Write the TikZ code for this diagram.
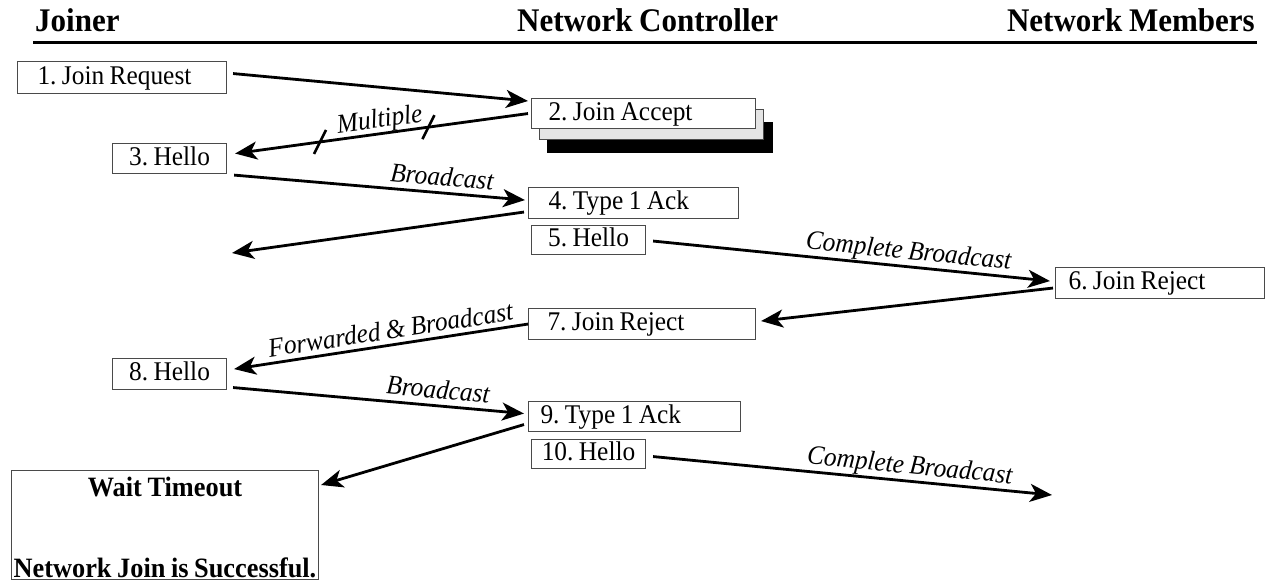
\documentclass[tikz,border=0pt]{standalone}
\usepackage{fontspec}
\setmainfont{Liberation Serif}[FakeStretch=0.94, WordSpace=0.85]
\usetikzlibrary{arrows.meta,calc}
\definecolor{boxc}{HTML}{4A4A4A}
\definecolor{shadegray}{HTML}{E4E4E4}
\frenchspacing
\begin{document}
\begin{tikzpicture}[x=1pt,y=-1pt,
  every node/.style={font=\fontsize{27}{32}\selectfont},
  box/.style={draw=boxc, line width=1.1pt, fill=white, anchor=north west,
    inner ysep=0pt, text height=18pt, text depth=5pt, align=flush left},
  hbox/.style={box, align=center, inner xsep=1pt},
  hd/.style={font=\fontsize{33}{38}\selectfont\bfseries, inner sep=0pt},
  bold/.style={font=\fontsize{28}{32}\selectfont\bfseries, inner sep=0pt},
  lab/.style={font=\fontsize{27}{32}\selectfont\itshape, sloped, above=1pt,
    inner sep=0pt, text depth=5pt},
  msg/.style={line width=2.8pt, -{Stealth[length=22pt,width=18pt,inset=6pt]}},
  tick/.style={line width=2.5pt}
]
\useasboundingbox (0,0) rectangle (1267,581);

% header
\node[hd, anchor=base west] (hj) at (35,31) {Joiner};
\node[hd, anchor=base west] (hc) at (517,31) {Network Controller};
\node[hd, anchor=base east] (hm) at (1255,31) {Network Members};
\draw[line width=3pt] (33,42) -- (1257,42);

% boxes
\node[box, inner xsep=20pt, text width=169pt, minimum height=32pt] (b1) at (17,61) {1. Join Request};
\node[box, draw=black, fill=black, minimum width=225pt, minimum height=30pt, inner sep=0pt] (b2k) at (547,122) {};
\node[box, fill=shadegray, minimum width=224pt, minimum height=30pt, inner sep=0pt] (b2g) at (539,109) {};
\node[box, inner xsep=17pt, text width=190pt, minimum height=30pt] (b2) at (531,98) {2. Join Accept};
\node[hbox, minimum width=114pt, minimum height=30pt] (b3) at (112,143) {3. Hello};
\node[box, inner xsep=20pt, text width=170pt, minimum height=31pt] (b4) at (528,187) {4. Type 1 Ack};
\node[hbox, minimum width=114pt, minimum height=29pt] (b5) at (531,225) {5. Hello};
\node[box, inner xsep=13pt, text width=183pt, minimum height=31pt] (b6) at (1055,267) {6. Join Reject};
\node[box, inner xsep=19pt, text width=189pt, minimum height=31pt] (b7) at (528,308) {7. Join Reject};
\node[hbox, minimum width=114pt, minimum height=31pt] (b8) at (112,358) {8. Hello};
\node[box, inner xsep=12pt, text width=188pt, minimum height=30pt] (b9) at (528,401) {9. Type 1 Ack};
\node[hbox, minimum width=114pt, minimum height=29pt] (b10) at (531,439) {10. Hello};
\node[box, minimum width=307pt, minimum height=109pt, inner sep=0pt] (wt) at (11,470) {};
\node[bold, anchor=base] (wt1) at (165,496) {Wait Timeout};
\node[bold, anchor=base] (wt2) at (165,577) {Network Join is Successful.};

% free ends
\coordinate (e4) at (232,253);
\coordinate (e10) at (1052,495);

% connectors
\draw[msg] ($(b1.east)+(6,-4)$) -- ($(b2.north west)+(-3,3)$);

\draw[msg] ($(b2.west)+(-3,0)$) -- ($(b3.east)+(8,-5)$);
\path ($(b2.west)+(-3,0)$) -- ($(b3.east)+(8,-5)$)
  coordinate[pos=0.34] (t1) coordinate[pos=0.71] (t2);
\draw[tick] ($(t1)+(-6,12)$) -- ($(t1)+(6,-12)$);
\draw[tick] ($(t2)+(-6,12)$) -- ($(t2)+(6,-12)$);
\path ($(b3.east)+(8,-5)$) -- ($(b2.west)+(-3,0)$) node[lab, pos=0.5] {Multiple};

\draw[msg] ($(b3.south east)+(7,1)$) -- node[lab, pos=0.71] {Broadcast} ($(b4.west)+(-3,-3)$);
\draw[msg] ($(b4.west)+(-4,9)$) -- (e4);

\draw[msg] ($(b5.east)+(7,1)$) -- node[lab, pos=0.64] {Complete Broadcast} ($(b6.west)+(-5,-2)$);
\draw[msg] ($(b6.west)+(-2,5)$) -- ($(b7.east)+(5,-3)$);

\draw[msg] (b7.west) -- ($(b8.east)+(7,-5)$);
\path ($(b8.east)+(7,-5)$) -- (b7.west) node[lab, pos=0.54] {Forwarded \& Broadcast};

\draw[msg] ($(b8.east)+(6,13.5)$) -- node[lab, pos=0.7] {Broadcast} ($(b9.west)+(-4,-3)$);
\draw[msg] ($(b9.west)+(-4,8)$) -- ($(wt.north east)+(2,15)$);

\draw[msg] ($(b10.east)+(7,2.5)$) -- node[lab, pos=0.64] {Complete Broadcast} (e10);
\end{tikzpicture}
\end{document}
